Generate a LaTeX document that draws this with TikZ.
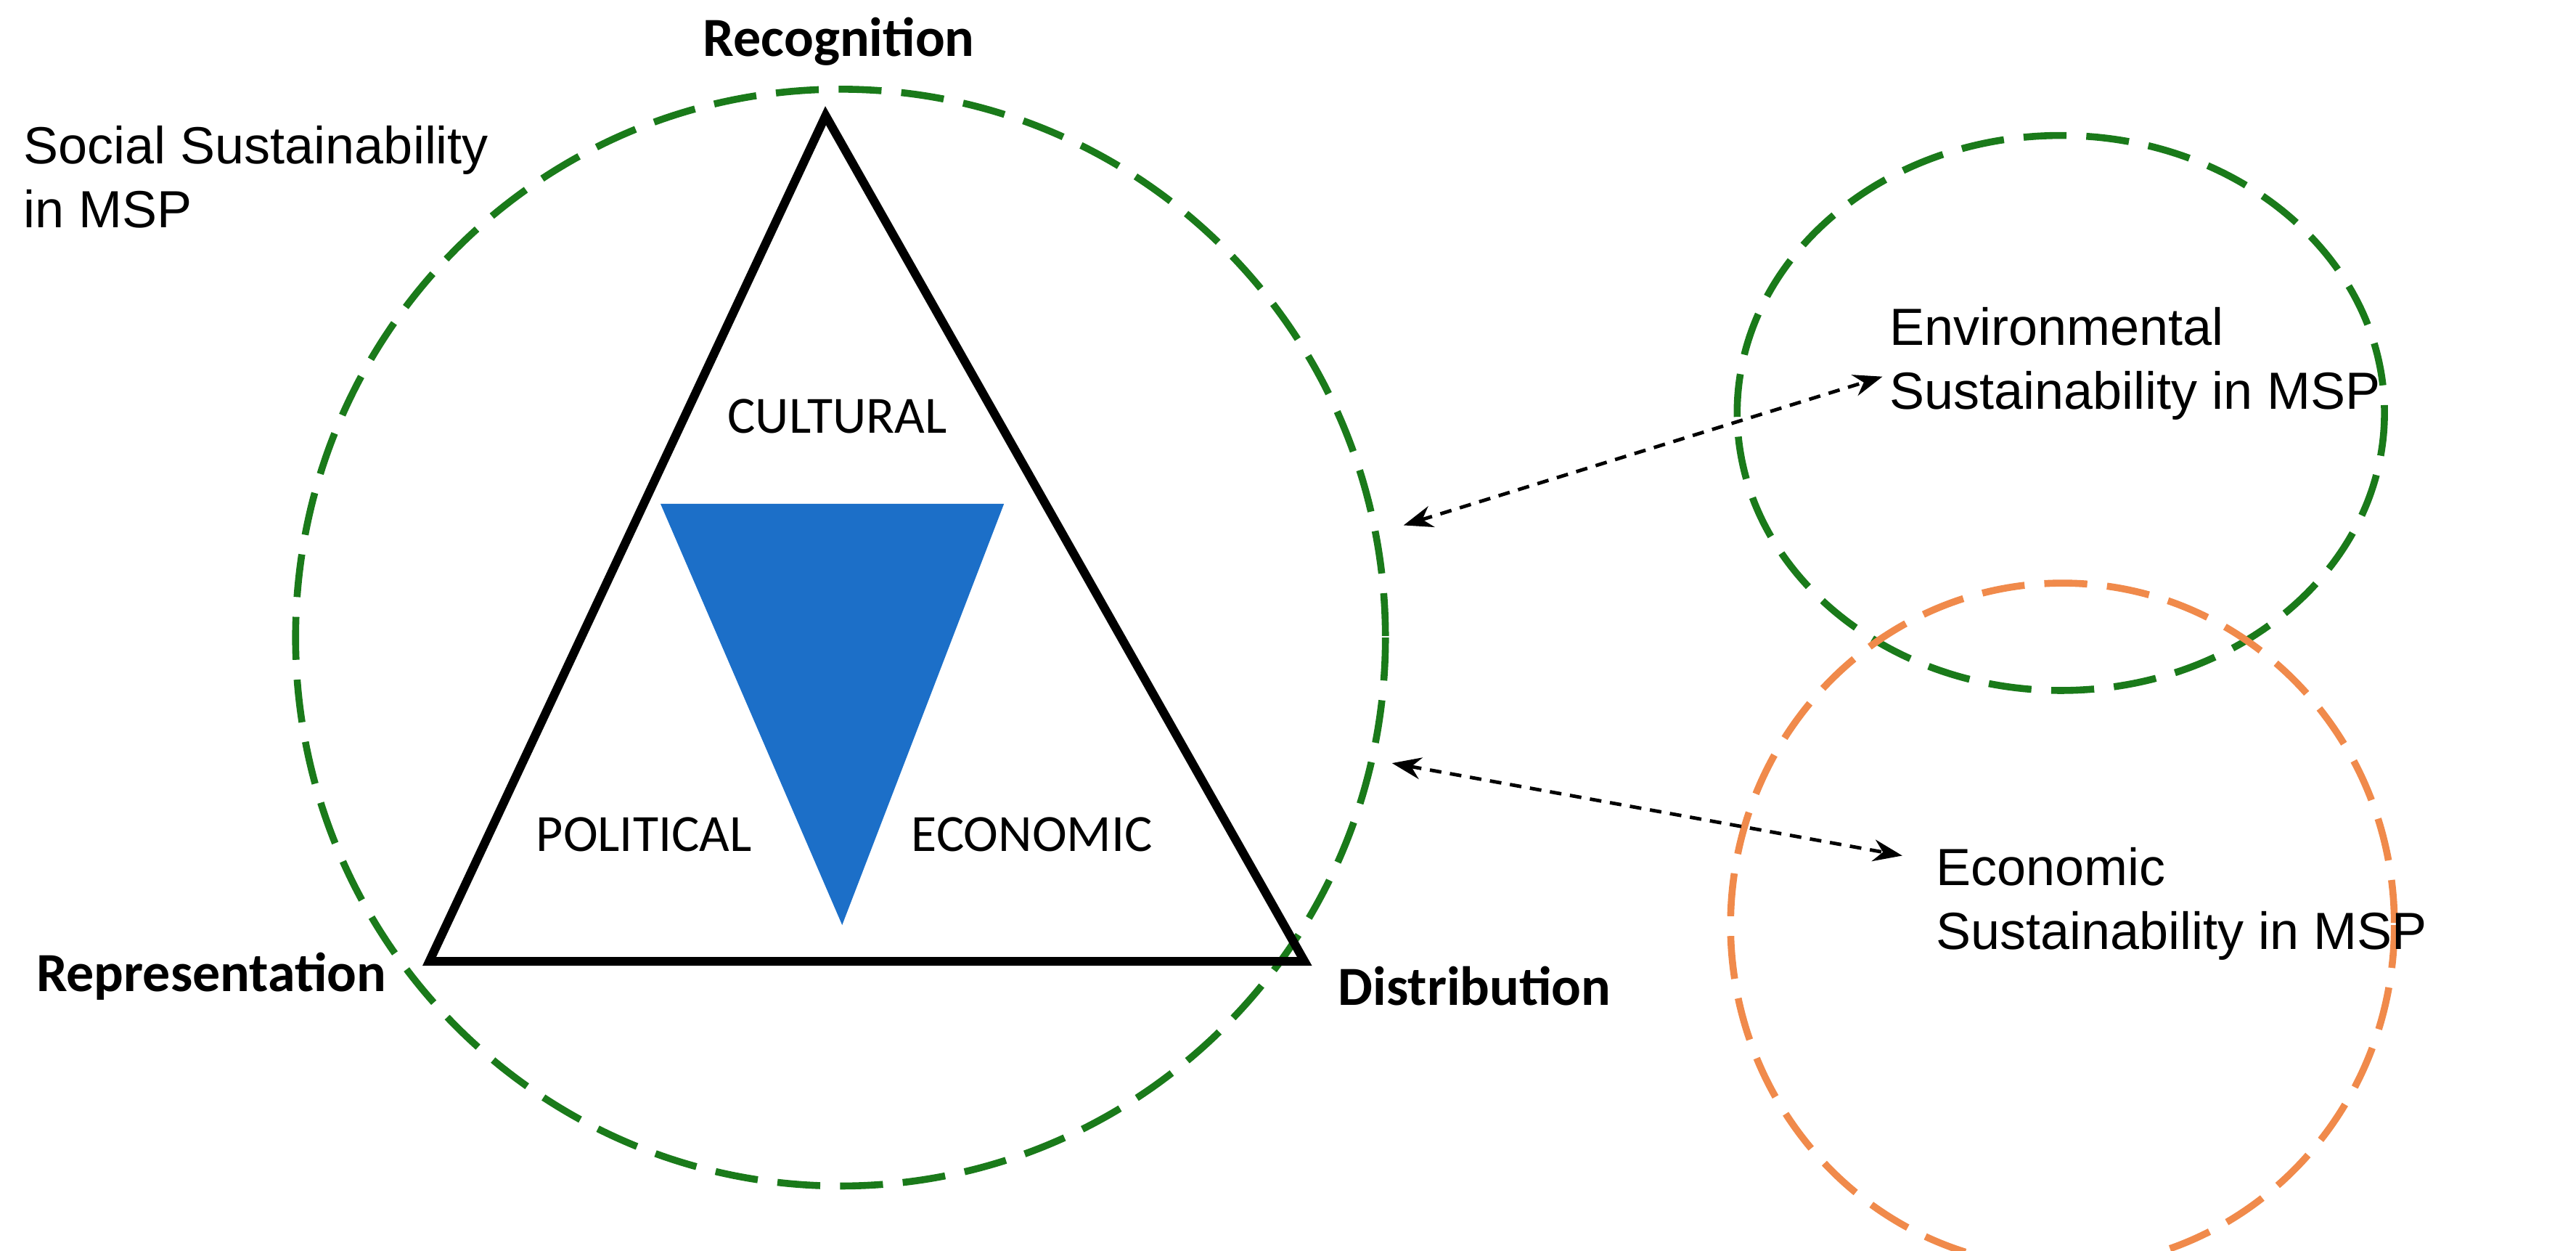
\documentclass[tikz,border=0pt]{standalone}
\usepackage{fontspec}
\setmainfont{Liberation Sans}
\newfontfamily\carl{Carlito}
\usetikzlibrary{arrows.meta}
\definecolor{dgreen}{HTML}{1A7A1A}
\definecolor{orng}{HTML}{F08A4B}
\definecolor{tblue}{HTML}{1C6FC8}
\begin{document}
\begin{tikzpicture}[x=0.01cm,y=-0.01cm,
  bigdash/.style={line width=1.2pt,dash pattern=on 0.26cm off 0.12cm},
  link/.style={line width=0.6pt,dash pattern=on 2pt off 1.5pt,{Stealth[length=5pt]}-{Stealth[length=5pt]}},
  lab/.style={font=\fontsize{9}{11}\selectfont,align=left,anchor=west},
  cal/.style={font=\carl\fontsize{9}{11}\selectfont},
  calb/.style={font=\carl\bfseries\fontsize{9.5}{11}\selectfont}]
\useasboundingbox (0,0) rectangle (1560,757);
\draw[dgreen,bigdash] (509,386) ellipse [x radius=330,y radius=332];
\draw[dgreen,bigdash] (1248,250) ellipse [x radius=196,y radius=168];
\draw[orng,bigdash] (1249,560) ellipse [x radius=201,y radius=207];
\coordinate (A) at (500,70); \coordinate (B) at (260,582); \coordinate (C) at (790,582);
\draw[line width=1.5pt,line join=miter] (A) -- (B) -- (C) -- cycle;
\fill[tblue] (400,305) -- (608,305) -- (510,560) -- cycle;
\node[calb] (rec) at (508,25) {Recognition};
\node[calb] (rep) at (128,591) {Representation};
\node[calb] (dis) at (893,597) {Distribution};
\node[cal] (cul) at (507,252) {CULTURAL};
\node[cal] (pol) at (390,505) {POLITICAL};
\node[cal] (eco) at (625,505) {ECONOMIC};
\node[lab] (soc) at (2,107) {Social Sustainability\\in MSP};
\node[lab] (env) at (1132,220) {Environmental\\Sustainability in MSP};
\node[lab] (ecs) at (1160,547) {Economic\\Sustainability in MSP};
\coordinate (s1) at (850,318); \coordinate (e1) at (1140,228);
\coordinate (s2) at (843,462); \coordinate (e2) at (1152,518);
\draw[link] (s1) -- (e1);
\draw[link] (s2) -- (e2);
\end{tikzpicture}
\end{document}
